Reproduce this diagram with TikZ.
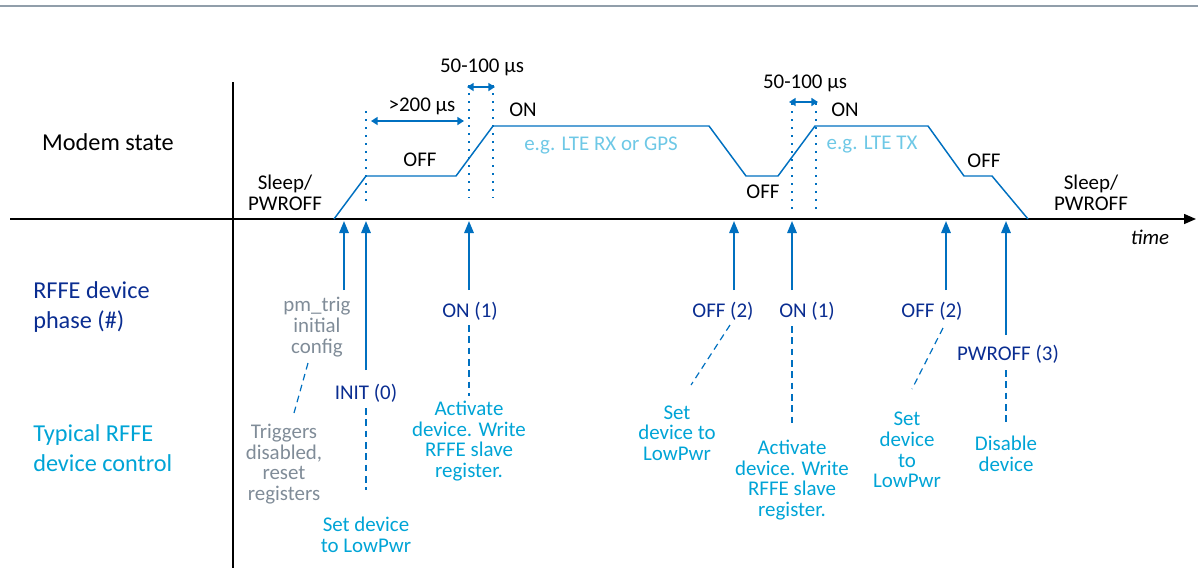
\documentclass[tikz,border=0pt]{standalone}
\usepackage{fontspec}
\setmainfont{Carlito}
\usetikzlibrary{arrows.meta}
\definecolor{lineblue}{RGB}{0,112,192}
\definecolor{phaseblue}{RGB}{10,45,145}
\definecolor{ctrlblue}{RGB}{0,164,214}
\definecolor{egblue}{RGB}{110,200,230}
\definecolor{txtgray}{RGB}{128,140,152}
\definecolor{rulegray}{RGB}{145,158,170}
\begin{document}
\begin{tikzpicture}[x=0.75pt,y=-0.75pt,
  lbl/.style={font=\fontsize{15.7}{15.5}\selectfont, inner sep=0pt, align=center},
  biglbl/.style={font=\fontsize{18.2}{22.5}\selectfont, inner sep=0pt, align=left},
  phase/.style={lbl, text=phaseblue},
  ctrl/.style={lbl, text=ctrlblue},
  axisline/.style={line width=1.1pt, black},
  wave/.style={line width=1.1pt, lineblue, line join=miter},
  uparrow/.style={line width=1.5pt, lineblue, -{Triangle[width=7pt,length=9pt]}},
  dimarrow/.style={line width=1.5pt, lineblue, {Triangle[width=6pt,length=5pt]}-{Triangle[width=6pt,length=5pt]}},
  dotline/.style={line width=1.2pt, lineblue, dash pattern=on 1.2pt off 4.8pt},
  dashline/.style={line width=0.9pt, lineblue, dash pattern=on 5pt off 3.5pt},
]
\useasboundingbox (0,0) rectangle (1198,568);

% top rule
\draw[rulegray, line width=1.6pt] (0,6) -- (1198,6);

% axes
\coordinate (xstart) at (10,219);
\coordinate (xend) at (1196,219);
\coordinate (ytop) at (233,82);
\coordinate (ybot) at (233,568);
\draw[axisline] (ytop) -- (ybot);
\draw[axisline, -{Triangle[width=7.5pt,length=9pt]}] (xstart) -- (xend);
\node[lbl, font=\fontsize{15.7}{15.5}\selectfont\itshape] (time) at (1150,237) {time};

% left labels
\node[biglbl] (modem) at (108,142) {Modem state};
\node[biglbl, text=phaseblue, anchor=west] (phaselbl) at (33,307) {RFFE device\\phase (\#)};
\node[biglbl, text=ctrlblue, anchor=west] (ctrllbl) at (33,448) {Typical RFFE\\device control};

% modem waveform
\draw[wave] (334,219) -- (366,176) -- (456,176) -- (493,126) -- (709,126) -- (746,176)
  -- (778,176) -- (815,126) -- (928,126) -- (964,176) -- (992,176) -- (1028,219);

% dotted timing lines
\draw[dotline] (366,111) -- (366,202);
\draw[dotline] (469,85) -- (469,198);
\draw[dotline] (493,85) -- (493,198);
\draw[dotline] (792,103) -- (792,212);
\draw[dotline] (816,103) -- (816,212);

% dimension arrows
\coordinate (d1a) at (371,121); \coordinate (d1b) at (464,121);
\coordinate (d2a) at (467,87);  \coordinate (d2b) at (495,87);
\coordinate (d3a) at (789,102); \coordinate (d3b) at (818,102);
\draw[dimarrow] (d1a) -- (d1b);
\draw[dimarrow] (d2a) -- (d2b);
\draw[dimarrow] (d3a) -- (d3b);
\node[lbl] (t200) at (422,106) {>200 µs};
\node[lbl] (t50a) at (482,67) {50-100 µs};
\node[lbl] (t50b) at (805,83) {50-100 µs};

% state labels
\node[lbl] (sleepL) at (285,193) {Sleep/\\PWROFF};
\node[lbl] (off1) at (420,160) {OFF};
\node[lbl] (on1) at (523,110) {ON};
\node[lbl, text=egblue] (eg1) at (601,146) {e.g. LTE RX or GPS};
\node[lbl] (off2) at (763,192) {OFF};
\node[lbl] (on2) at (845,110) {ON};
\node[lbl, text=egblue] (eg2) at (872,145) {e.g. LTE TX};
\node[lbl] (off3) at (984,161) {OFF};
\node[lbl] (sleepR) at (1091,193) {Sleep/\\PWROFF};

% axis event points
\coordinate (e1) at (344,221);
\coordinate (e2) at (366,221);
\coordinate (e3) at (469,221);
\coordinate (e4) at (734,221);
\coordinate (e5) at (792,221);
\coordinate (e6) at (946,221);
\coordinate (e7) at (1006,221);

% RFFE phase labels
\node[lbl, text=txtgray] (pm) at (317,327) {pm\_trig\\initial\\config};
\node[phase] (init0) at (366,393) {INIT (0)};
\node[phase] (on1p) at (470,311) {ON (1)};
\node[phase] (off2p) at (723,311) {OFF (2)};
\node[phase] (on1q) at (807,311) {ON (1)};
\node[phase] (off2q) at (932,311) {OFF (2)};
\node[phase] (pwroff) at (1008,354) {PWROFF (3)};

% arrow bases
\coordinate (b1) at (344,290);
\coordinate (b2) at (366,370);
\coordinate (b3) at (469,290);
\coordinate (b4) at (734,290);
\coordinate (b5) at (792,290);
\coordinate (b6) at (946,290);
\coordinate (b7) at (1006,335);
\draw[uparrow] (b1) -- (e1);
\draw[uparrow] (b2) -- (e2);
\draw[uparrow] (b3) -- (e3);
\draw[uparrow] (b4) -- (e4);
\draw[uparrow] (b5) -- (e5);
\draw[uparrow] (b6) -- (e6);
\draw[uparrow] (b7) -- (e7);

% control labels
\node[lbl, text=txtgray] (trig) at (284,464) {Triggers\\disabled,\\reset\\registers};
\node[ctrl] (setA) at (366,535) {Set device\\to LowPwr};
\node[ctrl] (actA) at (469,441) {Activate\\device. Write\\RFFE slave\\register.};
\node[ctrl] (setB) at (677,433) {Set\\device to\\LowPwr};
\node[ctrl] (actB) at (792,480) {Activate\\device. Write\\RFFE slave\\register.};
\node[ctrl] (setC) at (907,450) {Set\\device\\to\\LowPwr};
\node[ctrl] (disA) at (1006,454) {Disable\\device};

% dashed links
\coordinate (k1a) at (308,363); \coordinate (k1b) at (294,413);
\coordinate (k2a) at (366,408); \coordinate (k2b) at (366,490);
\coordinate (k3a) at (469,325); \coordinate (k3b) at (469,396);
\coordinate (k4a) at (730,325); \coordinate (k4b) at (691,385);
\coordinate (k5a) at (792,326); \coordinate (k5b) at (792,423);
\coordinate (k6a) at (943,328); \coordinate (k6b) at (912,389);
\coordinate (k7a) at (1006,370); \coordinate (k7b) at (1006,422);
\draw[dashline] (k1a) -- (k1b);
\draw[dashline] (k2a) -- (k2b);
\draw[dashline] (k3a) -- (k3b);
\draw[dashline] (k4a) -- (k4b);
\draw[dashline] (k5a) -- (k5b);
\draw[dashline] (k6a) -- (k6b);
\draw[dashline] (k7a) -- (k7b);
\end{tikzpicture}
\end{document}
